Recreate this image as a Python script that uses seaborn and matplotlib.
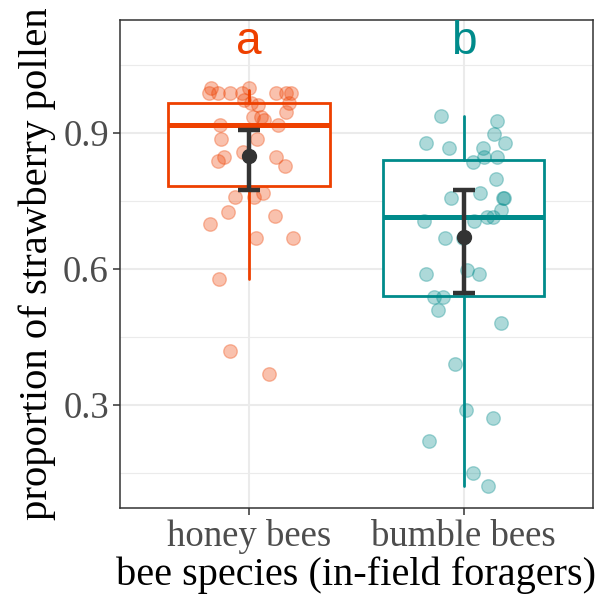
import numpy as np
import pandas as pd
import matplotlib
matplotlib.use("Agg")
import matplotlib.pyplot as plt
import seaborn as sns

# ---- data -------------------------------------------------------------
species = ["honey bees", "bumble bees"]
letters = ["a", "b"]

honey_prop = [0.999, 0.988, 0.988, 0.988, 0.988, 0.999, 0.973, 0.966, 0.962,
              0.988, 0.988, 0.988, 0.966, 0.946, 0.935, 0.935, 0.929, 0.918,
              0.918, 0.887, 0.887, 0.858, 0.847, 0.838, 0.847, 0.827, 0.759,
              0.759, 0.768, 0.726, 0.699, 0.717, 0.668, 0.668, 0.578, 0.419,
              0.368]
honey_jitter = [-0.177, -0.186, -0.144, -0.088, -0.033, 0.000, -0.023, 0.009,
                0.042, 0.126, 0.172, 0.195, 0.186, 0.172, 0.019, 0.056, 0.070,
                0.135, -0.135, -0.130, 0.037, -0.028, -0.116, -0.144, 0.126,
                0.167, -0.065, 0.023, 0.065, -0.098, -0.181, 0.121, 0.033,
                0.205, -0.140, -0.088, 0.093]

bumble_prop = [0.938, 0.926, 0.898, 0.878, 0.867, 0.867, 0.878, 0.847, 0.847,
               0.836, 0.799, 0.757, 0.768, 0.757, 0.757, 0.730, 0.715, 0.715,
               0.706, 0.706, 0.668, 0.668, 0.589, 0.598, 0.589, 0.538, 0.538,
               0.510, 0.481, 0.390, 0.289, 0.271, 0.221, 0.150, 0.121]
bumble_jitter = [-0.107, 0.153, 0.140, -0.177, -0.070, 0.088, 0.191, 0.093,
                 0.153, 0.042, 0.149, -0.060, 0.074, 0.186, 0.181, 0.172,
                 0.107, 0.135, -0.186, 0.047, -0.088, -0.005, -0.177, 0.014,
                 0.070, -0.140, -0.098, -0.121, 0.172, -0.042, 0.009, 0.135,
                 -0.163, 0.042, 0.112]

# box summaries (quartiles and whisker ends)
box_q1 = [0.783, 0.540]
box_med = [0.918, 0.715]
box_q3 = [0.966, 0.840]
whisker_lo = [0.578, 0.121]
whisker_hi = [0.995, 0.938]

# model estimates with confidence limits
est_mean = [0.850, 0.670]
ci_lo = [0.774, 0.548]
ci_hi = [0.907, 0.774]

y_ticks = [0.3, 0.6, 0.9]
y_minor = [0.15, 0.45, 0.75, 1.05]

# ---- styling ----------------------------------------------------------
colors = ["#EE4000", "#008B8B"]
serif = ["Liberation Serif", "DejaVu Serif"]

sns.set_theme(style="white")
plt.rcParams["font.family"] = serif

df = pd.concat([
    pd.DataFrame({"species": species[0], "prop": honey_prop, "jit": honey_jitter}),
    pd.DataFrame({"species": species[1], "prop": bumble_prop, "jit": bumble_jitter}),
], ignore_index=True)
df["code"] = df["species"].map({s: i for i, s in enumerate(species)})
df["xpos"] = df["code"] + df["jit"]

fig = plt.figure(figsize=(6.0, 5.98), dpi=100)
ax = fig.add_axes([0.2, 0.1505, 0.788, 0.816])
ax.set_facecolor("white")

# grid
for y in y_minor:
    ax.axhline(y, color="#EBEBEB", lw=0.8, zorder=0)
for y in y_ticks:
    ax.axhline(y, color="#EBEBEB", lw=1.5, zorder=0)
for x in range(len(species)):
    ax.axvline(x, color="#EBEBEB", lw=1.5, zorder=0)

# boxes
for i, c in enumerate(colors):
    stats = [dict(q1=box_q1[i], med=box_med[i], q3=box_q3[i],
                  whislo=whisker_lo[i], whishi=whisker_hi[i], fliers=[])]
    ax.bxp(stats, positions=[i], widths=0.75, showfliers=False,
           showcaps=False, patch_artist=True, manage_ticks=False,
           boxprops=dict(facecolor="white", edgecolor=c, linewidth=2.0),
           whiskerprops=dict(color=c, linewidth=2.0),
           medianprops=dict(color=c, linewidth=3.6, solid_capstyle="butt"),
           zorder=2)

# jittered observations
for i, c in enumerate(colors):
    sub = df[df["code"] == i]
    sns.scatterplot(data=sub, x="xpos", y="prop", color=c, alpha=0.32,
                    s=95, edgecolor=c, linewidth=1.0, legend=False,
                    ax=ax, zorder=3)

# estimates with confidence intervals
est = np.array(est_mean)
ax.errorbar(np.arange(len(species)), est,
            yerr=[est - np.array(ci_lo), np.array(ci_hi) - est],
            fmt="o", color="#333333", ms=10, elinewidth=3.2, capsize=8,
            capthick=3.2, zorder=4)

# significance letters
for i, (lab, c) in enumerate(zip(letters, colors)):
    ax.text(i, 1.1, lab, color=c, ha="center", va="center", fontsize=33,
            family=["Liberation Sans", "DejaVu Sans"])

ax.set_xlim(-0.6, 1.6)
ax.set_ylim(0.0727, 1.149)
ax.set_xticks(range(len(species)))
ax.set_xticklabels(species)
ax.set_yticks(y_ticks)
ax.set_yticklabels([f"{t:.1f}" for t in y_ticks])
ax.tick_params(axis="both", length=5, width=1.1, color="#333333",
               labelcolor="#4D4D4D", labelsize=26.5, pad=3, left=True,
               bottom=True)
for sp in ax.spines.values():
    sp.set_color("#333333")
    sp.set_linewidth(1.1)
ax.set_xlabel("bee species (in-field foragers)", fontsize=29, color="black",
              labelpad=2)
ax.set_ylabel("proportion of strawberry pollen", fontsize=29.3, color="black",
              labelpad=5)

fig.savefig("out.png", dpi=100)
